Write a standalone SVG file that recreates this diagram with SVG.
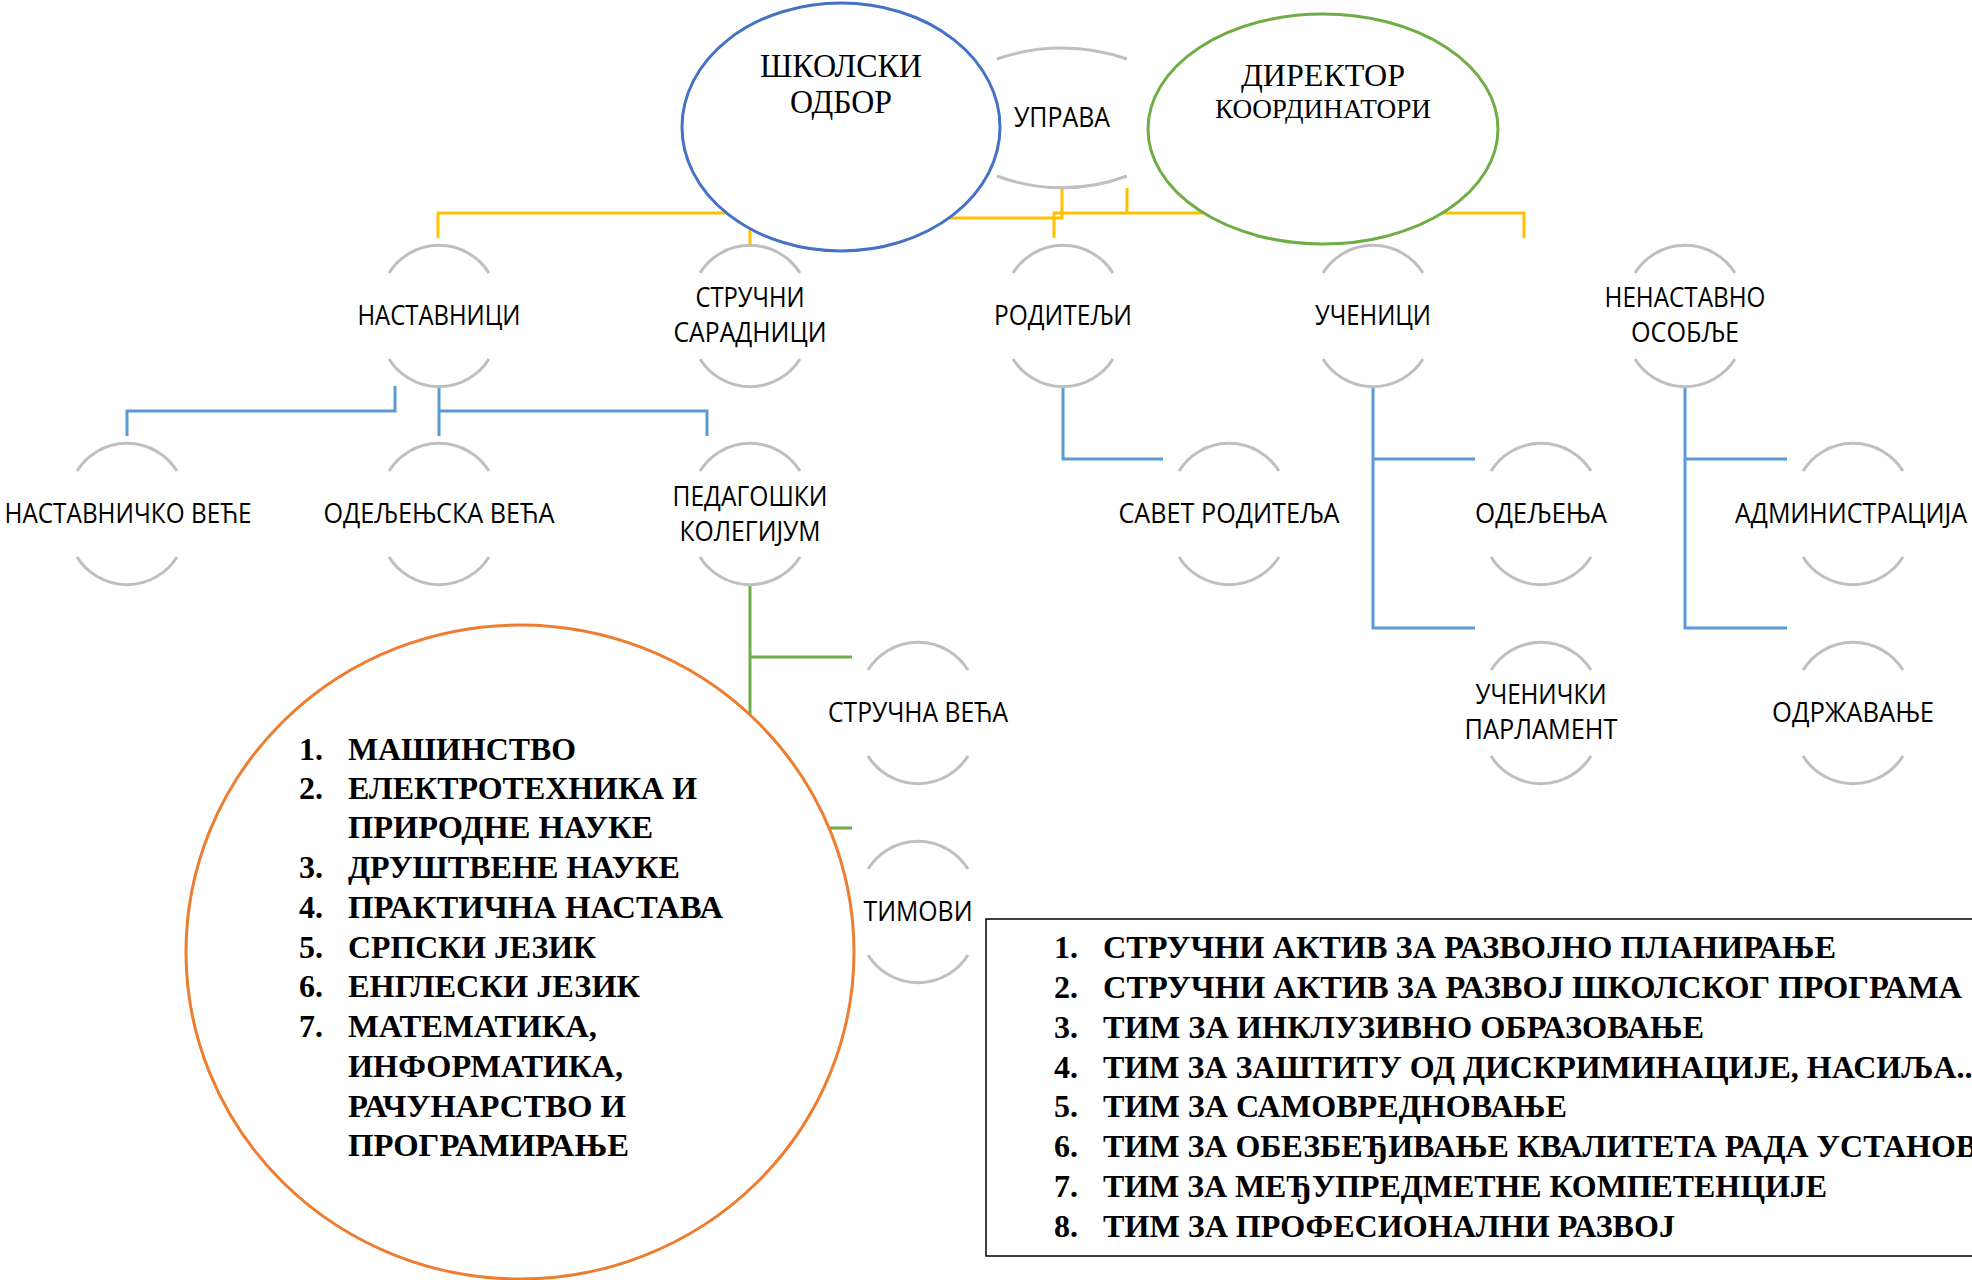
<svg xmlns="http://www.w3.org/2000/svg" xmlns:xlink="http://www.w3.org/1999/xlink" width="1972" height="1280" viewBox="0 0 1972 1280">
<style>
.arc{fill:none;stroke:#BFBFBF;stroke-width:3}
.lbl{font-family:"Open Sans","Liberation Sans",sans-serif;font-size:27px;fill:#000;text-anchor:middle}
.ttl{font-family:"Liberation Serif","Times New Roman",serif;fill:#000;text-anchor:middle}
.lst{font-family:"Liberation Serif","Times New Roman",serif;font-weight:bold;font-size:32px;fill:#000}
.bx{font-family:"Liberation Serif","Times New Roman",serif;font-weight:bold;font-size:32px;fill:#000}
.yc{fill:none;stroke:#FFC000;stroke-width:3}
.bc{fill:none;stroke:#5B9BD5;stroke-width:3}
.gc{fill:none;stroke:#70AD47;stroke-width:3}
</style>
<defs>
<g id="ring" class="arc">
<path d="M-50,-43 A59,59 0 0 1 50,-43"/>
<path d="M-50,43 A59,59 0 0 0 50,43"/>
</g>
</defs>
<rect width="1972" height="1280" fill="#fff"/>
<g id="connectors">
<path class="yc" d="M438,238 V213 H900"/>
<path class="yc" d="M750,213 V246"/>
<path class="yc" d="M900,218 H1062 V189"/>
<path class="yc" d="M1054,238 V213 H1524 V238"/>
<path class="yc" d="M1127,188 V213"/>
<path class="yc" d="M1258,213 V238"/>
<path class="bc" d="M395,386 V411 H127 V436"/>
<path class="bc" d="M439,386 V436"/>
<path class="bc" d="M439,411 H707 V436"/>
<path class="bc" d="M1063,386 V459 H1163"/>
<path class="bc" d="M1373,386 V628 H1475 M1373,459 H1475"/>
<path class="bc" d="M1685,386 V628 H1787 M1685,459 H1787"/>
<path class="gc" d="M750,585 V828 H852 M750,657 H852"/>
</g>
<g id="uprava">
<path class="arc" d="M997,59 A197,197 0 0 1 1127,59"/>
<path class="arc" d="M997,176 A185,185 0 0 0 1127,176"/>
<text class="lbl" x="1062" y="127" textLength="96" lengthAdjust="spacingAndGlyphs">УПРАВА</text>
</g>
<g id="skolski-odbor">
<ellipse cx="841" cy="127" rx="159" ry="124" fill="#fff" stroke="#4472C4" stroke-width="3"/>
<text class="ttl" x="841" y="77" font-size="33" textLength="162" lengthAdjust="spacingAndGlyphs">ШКОЛСКИ</text>
<text class="ttl" x="841" y="113" font-size="33" textLength="102" lengthAdjust="spacingAndGlyphs">ОДБОР</text>
</g>
<g id="direktor">
<ellipse cx="1323" cy="129" rx="175" ry="115" fill="#fff" stroke="#70AD47" stroke-width="3"/>
<text class="ttl" x="1323" y="86" font-size="32" textLength="164" lengthAdjust="spacingAndGlyphs">ДИРЕКТОР</text>
<text class="ttl" x="1323" y="118" font-size="27" textLength="216" lengthAdjust="spacingAndGlyphs">КООРДИНАТОРИ</text>
</g>
<g id="nastavnici"><use xlink:href="#ring" x="439" y="316"/><text class="lbl" x="439" y="325" textLength="163" lengthAdjust="spacingAndGlyphs">НАСТАВНИЦИ</text></g>
<g id="strucni-saradnici"><use xlink:href="#ring" x="750" y="316"/><text class="lbl" x="750" y="307" textLength="109" lengthAdjust="spacingAndGlyphs">СТРУЧНИ</text><text class="lbl" x="750" y="342" textLength="153" lengthAdjust="spacingAndGlyphs">САРАДНИЦИ</text></g>
<g id="roditelji"><use xlink:href="#ring" x="1063" y="316"/><text class="lbl" x="1063" y="325" textLength="138" lengthAdjust="spacingAndGlyphs">РОДИТЕЉИ</text></g>
<g id="ucenici"><use xlink:href="#ring" x="1373" y="316"/><text class="lbl" x="1373" y="325" textLength="116" lengthAdjust="spacingAndGlyphs">УЧЕНИЦИ</text></g>
<g id="nenastavno-osoblje"><use xlink:href="#ring" x="1685" y="316"/><text class="lbl" x="1685" y="307" textLength="161" lengthAdjust="spacingAndGlyphs">НЕНАСТАВНО</text><text class="lbl" x="1685" y="342" textLength="108" lengthAdjust="spacingAndGlyphs">ОСОБЉЕ</text></g>
<g id="nastavnicko-vece"><use xlink:href="#ring" x="127" y="514"/><text class="lbl" x="128" y="523" textLength="247" lengthAdjust="spacingAndGlyphs">НАСТАВНИЧКО ВЕЋЕ</text></g>
<g id="odeljenska-veca"><use xlink:href="#ring" x="439" y="514"/><text class="lbl" x="439" y="523" textLength="231" lengthAdjust="spacingAndGlyphs">ОДЕЉЕЊСКА ВЕЋА</text></g>
<g id="pedagoski-kolegijum"><use xlink:href="#ring" x="750" y="514"/><text class="lbl" x="750" y="506" textLength="155" lengthAdjust="spacingAndGlyphs">ПЕДАГОШКИ</text><text class="lbl" x="750" y="541" textLength="141" lengthAdjust="spacingAndGlyphs">КОЛЕГИЈУМ</text></g>
<g id="savet-roditelja"><use xlink:href="#ring" x="1229" y="514"/><text class="lbl" x="1229" y="523" textLength="221" lengthAdjust="spacingAndGlyphs">САВЕТ РОДИТЕЉА</text></g>
<g id="odeljenja"><use xlink:href="#ring" x="1541" y="514"/><text class="lbl" x="1541" y="523" textLength="132" lengthAdjust="spacingAndGlyphs">ОДЕЉЕЊА</text></g>
<g id="administracija"><use xlink:href="#ring" x="1853" y="514"/><text class="lbl" x="1851" y="523" textLength="232" lengthAdjust="spacingAndGlyphs">АДМИНИСТРАЦИЈА</text></g>
<g id="strucna-veca"><use xlink:href="#ring" x="918" y="713"/><text class="lbl" x="918" y="722" textLength="180" lengthAdjust="spacingAndGlyphs">СТРУЧНА ВЕЋА</text></g>
<g id="ucenicki-parlament"><use xlink:href="#ring" x="1541" y="713"/><text class="lbl" x="1541" y="704" textLength="131" lengthAdjust="spacingAndGlyphs">УЧЕНИЧКИ</text><text class="lbl" x="1541" y="739" textLength="153" lengthAdjust="spacingAndGlyphs">ПАРЛАМЕНТ</text></g>
<g id="odrzavanje"><use xlink:href="#ring" x="1853" y="713"/><text class="lbl" x="1853" y="722" textLength="162" lengthAdjust="spacingAndGlyphs">ОДРЖАВАЊЕ</text></g>
<g id="timovi"><use xlink:href="#ring" x="918" y="912"/><text class="lbl" x="918" y="921" textLength="109" lengthAdjust="spacingAndGlyphs">ТИМОВИ</text></g>
<g id="strucna-veca-list">
<ellipse cx="520" cy="952" rx="334" ry="327" fill="#fff" stroke="#ED7D31" stroke-width="3"/>
<g class="lst">
<text x="299" y="760">1.</text><text x="348" y="760" textLength="228" lengthAdjust="spacingAndGlyphs">МАШИНСТВО</text>
<text x="299" y="799">2.</text><text x="348" y="799" textLength="349" lengthAdjust="spacingAndGlyphs">ЕЛЕКТРОТЕХНИКА И</text>
<text x="348" y="838" textLength="305" lengthAdjust="spacingAndGlyphs">ПРИРОДНЕ НАУКЕ</text>
<text x="299" y="878">3.</text><text x="348" y="878" textLength="332" lengthAdjust="spacingAndGlyphs">ДРУШТВЕНЕ НАУКЕ</text>
<text x="299" y="918">4.</text><text x="348" y="918" textLength="375" lengthAdjust="spacingAndGlyphs">ПРАКТИЧНА НАСТАВА</text>
<text x="299" y="958">5.</text><text x="348" y="958" textLength="248" lengthAdjust="spacingAndGlyphs">СРПСКИ ЈЕЗИК</text>
<text x="299" y="997">6.</text><text x="348" y="997" textLength="292" lengthAdjust="spacingAndGlyphs">ЕНГЛЕСКИ ЈЕЗИК</text>
<text x="299" y="1037">7.</text><text x="348" y="1037" textLength="249" lengthAdjust="spacingAndGlyphs">МАТЕМАТИКА,</text>
<text x="348" y="1077" textLength="275" lengthAdjust="spacingAndGlyphs">ИНФОРМАТИКА,</text>
<text x="348" y="1117" textLength="278" lengthAdjust="spacingAndGlyphs">РАЧУНАРСТВО И</text>
<text x="348" y="1156" textLength="281" lengthAdjust="spacingAndGlyphs">ПРОГРАМИРАЊЕ</text>
</g>
</g>
<g id="timovi-list">
<rect x="986" y="919" width="1010" height="337" fill="#fff" stroke="#000" stroke-width="1.5"/>
<g class="bx">
<text x="1054" y="958">1.</text><text x="1103" y="958" textLength="733" lengthAdjust="spacingAndGlyphs">СТРУЧНИ АКТИВ ЗА РАЗВОЈНО ПЛАНИРАЊЕ</text>
<text x="1054" y="998">2.</text><text x="1103" y="998" textLength="859" lengthAdjust="spacingAndGlyphs">СТРУЧНИ АКТИВ ЗА РАЗВОЈ ШКОЛСКОГ ПРОГРАМА</text>
<text x="1054" y="1038">3.</text><text x="1103" y="1038" textLength="601" lengthAdjust="spacingAndGlyphs">ТИМ ЗА ИНКЛУЗИВНО ОБРАЗОВАЊЕ</text>
<text x="1054" y="1078">4.</text><text x="1103" y="1078">ТИМ ЗА ЗАШТИТУ ОД ДИСКРИМИНАЦИЈЕ, НАСИЉА...</text>
<text x="1054" y="1117">5.</text><text x="1103" y="1117" textLength="464" lengthAdjust="spacingAndGlyphs">ТИМ ЗА САМОВРЕДНОВАЊЕ</text>
<text x="1054" y="1157">6.</text><text x="1103" y="1157">ТИМ ЗА ОБЕЗБЕЂИВАЊЕ КВАЛИТЕТА РАДА УСТАНОВЕ</text>
<text x="1054" y="1197">7.</text><text x="1103" y="1197" textLength="724" lengthAdjust="spacingAndGlyphs">ТИМ ЗА МЕЂУПРЕДМЕТНЕ КОМПЕТЕНЦИЈЕ</text>
<text x="1054" y="1237">8.</text><text x="1103" y="1237" textLength="572" lengthAdjust="spacingAndGlyphs">ТИМ ЗА ПРОФЕСИОНАЛНИ РАЗВОЈ</text>
</g>
</g>
</svg>
